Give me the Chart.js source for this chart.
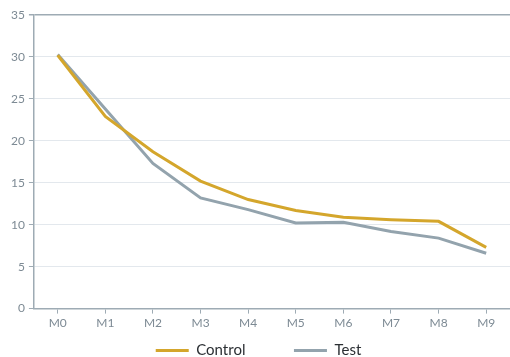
<!DOCTYPE html>
<html>
<head>
<meta charset="utf-8">
<script src="https://cdn.jsdelivr.net/npm/chart.js@4"></script>
<style>
  html, body { margin: 0; padding: 0; background: #fff; }
  #wrap { width: 510px; height: 357px; }
</style>
</head>
<body>
<div id="wrap"><canvas id="chart"></canvas></div>
<script>
const months = ["M0", "M1", "M2", "M3", "M4", "M5", "M6", "M7", "M8", "M9"];
const control = [30.2, 22.9, 18.7, 15.2, 13.0, 11.7, 10.9, 10.6, 10.4, 7.3];
const test = [30.3, 23.8, 17.3, 13.2, 11.8, 10.2, 10.3, 9.2, 8.4, 6.6];

const axisColor = "#9eabb4";
const gridColor = "#e3e8ed";
const tickText = "#7d8a94";

// thin flat legend swatches, a bit of room after the first label
const legendLabels = (chart) =>
  Chart.defaults.plugins.legend.labels.generateLabels(chart).map((item, i) => ({
    ...item,
    lineWidth: 0,
    text: i === 0 ? item.text + "\u2003\u2003\u2003\u2005" : item.text,
  }));

new Chart(document.getElementById("chart"), {
  type: "line",
  data: {
    labels: months,
    datasets: [
      { label: "Control", data: control, borderColor: "#d4a62c", backgroundColor: "#d4a62c", borderWidth: 3, pointRadius: 0, tension: 0 },
      { label: "Test", data: test, borderColor: "#93a3ad", backgroundColor: "#93a3ad", borderWidth: 3, pointRadius: 0, tension: 0 },
    ],
  },
  options: {
    responsive: true,
    maintainAspectRatio: false,
    animation: false,
    layout: { padding: { top: 15, right: 0, left: 7, bottom: -11 } },
    scales: {
      x: {
        offset: true,
        grid: { display: true, drawOnChartArea: false, tickLength: 5, tickColor: axisColor, offset: false },
        border: { color: axisColor, width: 1.5 },
        ticks: { color: tickText, font: { family: "Lato", size: 12 }, padding: 2 },
      },
      y: {
        min: 0,
        max: 35,
        ticks: { stepSize: 5, color: tickText, font: { family: "Lato", size: 12 }, padding: 4 },
        grid: {
          color: (ctx) => (ctx.tick && ctx.tick.value === 35 ? axisColor : gridColor),
          lineWidth: (ctx) => (ctx.tick && ctx.tick.value === 35 ? 1.5 : 1),
          tickLength: 5,
          tickColor: axisColor,
        },
        border: { color: axisColor, width: 1.5 },
      },
    },
    plugins: {
      legend: {
        position: "bottom",
        labels: {
          color: "#2b2f33",
          font: { family: "Lato", size: 15 },
          boxWidth: 33,
          boxHeight: 3,
          padding: 11,
          generateLabels: legendLabels,
        },
      },
      tooltip: { enabled: false },
    },
  },
});
</script>
</body>
</html>
